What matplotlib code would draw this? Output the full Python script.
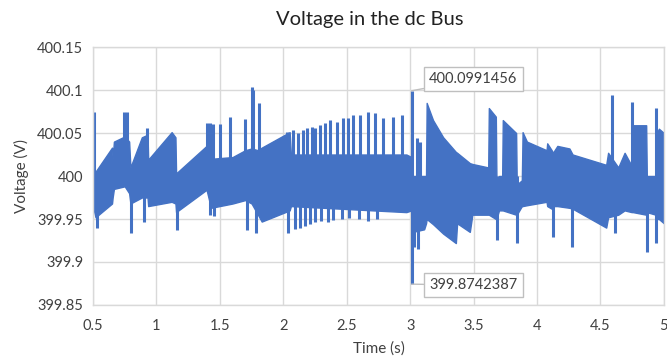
import matplotlib
matplotlib.use("Agg")
import matplotlib.pyplot as plt
import numpy as np

# ---- data ----
# band envelope (time, upper, lower)
env_t = [0.500, 0.520, 0.650, 0.655, 0.665, 0.750, 0.785, 0.795, 0.885, 0.930, 0.935,
         1.120, 1.150, 1.155, 1.395, 1.410, 1.430, 1.600, 1.700, 1.750, 1.800, 1.830,
         2.050, 2.060, 2.970, 3.010, 3.020, 3.110, 3.125, 3.130, 3.180, 3.260, 3.360,
         3.370, 3.470, 3.490, 3.615, 3.620, 3.675, 3.680, 3.700, 3.725, 3.730, 3.835,
         3.840, 3.880, 3.886, 3.920, 4.075, 4.080, 4.115, 4.125, 4.160, 4.255, 4.280,
         4.545, 4.560, 4.640, 4.690, 4.745, 4.755, 4.860, 4.865, 4.935, 4.945, 4.960, 5.000]
env_hi = [400.000, 400.005, 400.033, 400.020, 400.040, 400.046, 400.040, 400.010, 400.045, 400.048, 400.019,
          400.051, 400.045, 400.003, 400.035, 400.030, 400.020, 400.022, 400.030, 400.032, 400.030, 400.033,
          400.051, 400.025, 400.025, 400.022, 400.000, 400.000, 400.000, 400.085, 400.065, 400.045, 400.028,
          400.027, 400.015, 400.014, 400.010, 400.079, 400.069, 399.995, 400.000, 400.000, 400.065, 400.050,
          399.990, 399.995, 400.051, 400.040, 400.030, 400.038, 400.030, 400.027, 400.035, 400.032, 400.025,
          400.013, 400.027, 400.010, 400.027, 400.012, 400.059, 400.059, 400.000, 400.000, 400.050, 400.055, 400.050]
env_lo = [399.965, 399.952, 399.968, 399.975, 399.985, 399.988, 399.980, 399.968, 399.975, 399.975, 399.965,
          399.970, 399.968, 399.958, 399.984, 399.975, 399.963, 399.968, 399.972, 399.968, 399.955, 399.947,
          399.960, 399.965, 399.958, 399.960, 399.935, 399.938, 399.945, 399.950, 399.944, 399.933, 399.922,
          399.945, 399.935, 399.955, 399.955, 399.955, 399.950, 399.950, 399.960, 399.960, 399.960, 399.955,
          399.955, 399.965, 399.965, 399.966, 399.970, 399.965, 399.962, 399.965, 399.965, 399.963, 399.962,
          399.940, 399.952, 399.955, 399.960, 399.958, 399.958, 399.955, 399.958, 399.955, 399.950, 399.950, 399.945]

# narrow upward spikes (time, peak)
up_t = [0.510, 0.745, 0.770, 0.925, 1.400, 1.420, 1.445, 1.500, 1.579, 1.697, 1.755, 1.765, 1.807,
        2.028, 2.075, 2.114, 2.154, 2.185, 2.224, 2.248, 2.287, 2.327, 2.366, 2.421, 2.469, 2.508,
        2.547, 2.602, 2.665, 2.720, 2.783, 2.862, 2.933,
        3.012, 3.055, 3.075, 4.587, 4.752, 4.941]
up_v = [400.075, 400.074, 400.074, 400.056, 400.062, 400.062, 400.060, 400.060, 400.069, 400.066, 400.103, 400.100, 400.085,
        400.051, 400.053, 400.050, 400.053, 400.056, 400.057, 400.056, 400.059, 400.062, 400.065, 400.063, 400.067, 400.067,
        400.071, 400.071, 400.074, 400.073, 400.067, 400.069, 400.071,
        400.0991456, 400.044, 400.040, 400.094, 400.086, 400.079]

# narrow downward spikes (time, trough)
dn_t = [0.530, 0.800, 0.900, 1.160, 1.420, 1.450, 1.713, 1.783,
        2.035, 2.090, 2.130, 2.170, 2.210, 2.250, 2.300, 2.350, 2.390, 2.460, 2.520, 2.600, 2.665, 2.736,
        3.012, 3.030, 3.060, 3.681, 3.842, 4.122, 4.272, 4.615, 4.870, 4.941]
dn_v = [399.940, 399.934, 399.947, 399.937, 399.955, 399.953, 399.937, 399.934,
        399.934, 399.938, 399.940, 399.942, 399.944, 399.946, 399.948, 399.947, 399.949, 399.950, 399.951, 399.950, 399.948, 399.950,
        399.8742387, 399.918, 399.915, 399.926, 399.922, 399.929, 399.918, 399.934, 399.912, 399.922]

max_t, max_v = 3.012, 400.0991456
min_t, min_v = 3.012, 399.8742387

x_ticks = [0.5, 1, 1.5, 2, 2.5, 3, 3.5, 4, 4.5, 5]
x_labels = ["0.5", "1", "1.5", "2", "2.5", "3", "3.5", "4", "4.5", "5"]
y_ticks = [399.85, 399.9, 399.95, 400, 400.05, 400.1, 400.15]
y_labels = ["399.85", "399.9", "399.95", "400", "400.05", "400.1", "400.15"]

# ---- drawing ----
plt.rcParams['font.family'] = ['Lato', 'DejaVu Sans']
blue = '#4472C4'
grid = '#D9D9D9'
txt = '#404040'

fig = plt.figure(figsize=(6.67, 3.6), dpi=100)
ax = fig.add_axes([0.1394, 0.1528, 0.856, 0.7166])

ax.fill_between(env_t, env_lo, env_hi, color=blue, lw=1.0, edgecolor=blue)
ax.vlines(up_t, 400.0, up_v, color=blue, lw=2.2)
ax.vlines(dn_t, dn_v, 400.0, color=blue, lw=2.2)

ax.set_xlim(0.5, 5)
ax.set_ylim(399.85, 400.15)
ax.set_xticks(x_ticks)
ax.set_xticklabels(x_labels)
ax.set_yticks(y_ticks)
ax.set_yticklabels(y_labels)
ax.tick_params(axis='x', length=0, labelsize=10.5, colors=txt, pad=10)
ax.tick_params(axis='y', length=0, labelsize=10.5, colors=txt, pad=7)
ax.grid(True, color=grid, lw=1)
ax.set_axisbelow(True)
for s in ax.spines.values():
    s.set_color(grid)
    s.set_linewidth(1)

ax.set_xlabel("Time (s)", fontsize=11, color=txt, labelpad=6)
ax.set_ylabel("Voltage (V)", fontsize=11, color=txt, labelpad=6)
fig.text(370 / 667, 1 - 20 / 360, "Voltage in the dc Bus", ha='center', va='center',
         fontsize=14.5, color='#222222')

box = dict(boxstyle='square,pad=0.35', fc='white', ec='#BFBFBF', lw=1)
ax.annotate(f"{max_v:.7f}", xy=(max_t, max_v), xytext=(3.15, 400.1125),
            ha='left', va='center', fontsize=10.5, color=txt, bbox=box,
            arrowprops=dict(arrowstyle='-', color='#BFBFBF', lw=1, shrinkA=0, shrinkB=0))
ax.annotate(f"{min_v:.7f}", xy=(min_t, min_v), xytext=(3.15, 399.873),
            ha='left', va='center', fontsize=10.5, color=txt, bbox=box,
            arrowprops=dict(arrowstyle='-', color='#BFBFBF', lw=1, shrinkA=0, shrinkB=0))

fig.savefig("out.png", dpi=100)
